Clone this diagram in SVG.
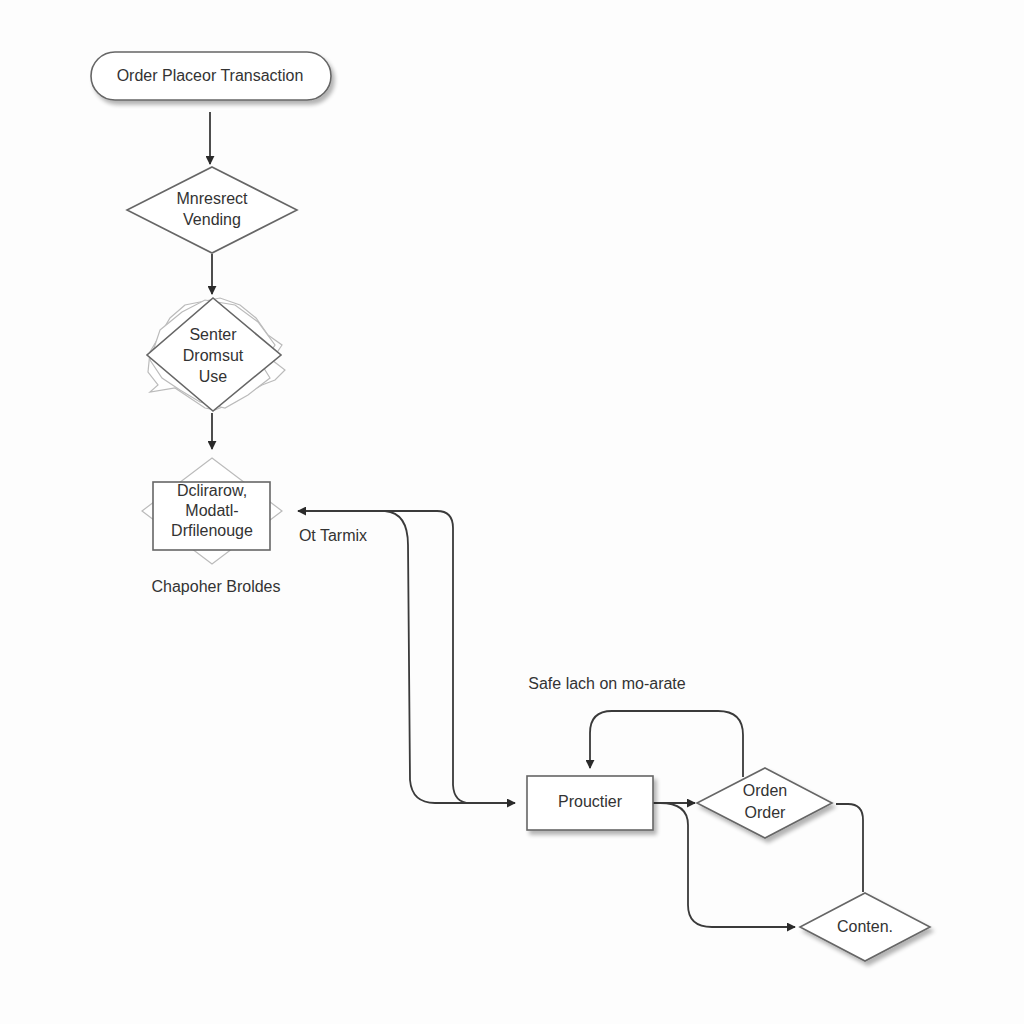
<svg xmlns="http://www.w3.org/2000/svg" width="1024" height="1024" viewBox="0 0 1024 1024">
<defs>
<marker id="ah" viewBox="0 0 10 10" refX="9" refY="5" markerWidth="9" markerHeight="9" markerUnits="userSpaceOnUse" orient="auto">
<path d="M0,0 L10,5 L0,10 z" fill="#2a2a2a"/>
</marker>
<marker id="ahs" viewBox="0 0 10 10" refX="9" refY="5" markerWidth="9" markerHeight="9" markerUnits="userSpaceOnUse" orient="auto-start-reverse">
<path d="M0,0 L10,5 L0,10 z" fill="#2a2a2a"/>
</marker>
<filter id="sh" x="-20%" y="-20%" width="150%" height="150%">
<feGaussianBlur in="SourceAlpha" stdDeviation="2"/>
<feOffset dx="3" dy="4" result="b"/>
<feComponentTransfer><feFuncA type="linear" slope="0.3"/></feComponentTransfer>
<feMerge><feMergeNode/><feMergeNode in="SourceGraphic"/></feMerge>
</filter>
</defs>
<style>
text{font-family:"Liberation Sans",Arial,sans-serif;font-size:16px;fill:#333;text-anchor:middle;dominant-baseline:middle}
.n{fill:#fff;stroke:#666;stroke-width:1.6}
.f{fill:#fff;stroke:#bbb;stroke-width:1.2}
.c{fill:none;stroke:#3a3a3a;stroke-width:1.8}
</style>
<rect width="1024" height="1024" fill="#fdfdfd"/>
<g id="connectors">
<path class="c" d="M210 112 V164" marker-end="url(#ah)"/>
<path class="c" d="M212 254 V294" marker-end="url(#ah)"/>
<path class="c" d="M212 413 V449" marker-end="url(#ah)"/>
<path class="c" d="M515 803 H470 Q454 803 453 785 V528 Q453 511 437 511 H298" marker-start="url(#ahs)" marker-end="url(#ah)"/>
<path class="c" d="M385 511 Q408 513 408 545 L410 780 Q412 803 435 803 H470"/>
<path class="c" d="M653 803 H695" marker-end="url(#ah)"/>
<path class="c" d="M743 777 V735 Q743 711 718 711 H612 Q590 711 590 733 V768" marker-end="url(#ah)"/>
<path class="c" d="M660 803 Q688 803 688 825 V905 Q688 927 712 927 H795" marker-end="url(#ah)"/>
<path class="c" d="M836 804 H848 Q863 804 863 820 V892"/>
</g>
<g id="node1">
<rect class="n" x="91" y="52" width="240" height="48" rx="24" filter="url(#sh)"/>
<text x="210" y="77">Order Placeor Transaction</text>
</g>
<g id="node2">
<polygon class="n" points="212,167 297,210 212,253 127,210"/>
<text x="212" y="200">Mnresrect</text>
<text x="212" y="221">Vending</text>
</g>
<g id="node3">
<polygon class="f" points="185,305 170,318 160,335 150,352 148,372 158,385 150,392 175,388 190,398 205,408 215,410 235,402 250,392 262,385 275,380 285,370 272,360 282,345 268,335 256,318 240,305 220,298 200,302"/>
<polygon class="f" points="160,330 182,312 205,300 235,305 258,322 275,345 262,365 270,378 248,395 225,408 200,402 180,390 162,378 150,360"/>
<polygon class="n" points="213,298 281,355 213,411 147,355"/>
<text x="213" y="336">Senter</text>
<text x="213" y="357">Dromsut</text>
<text x="213" y="378">Use</text>
</g>
<g id="node4">
<polygon class="f" points="212,458 282,511 212,564 142,511"/>
<rect class="n" x="153" y="482" width="117" height="68" stroke="#999"/>
<text x="212" y="492">Dclirarow,</text>
<text x="212" y="512">Modatl-</text>
<text x="212" y="532">Drfilenouge</text>
</g>
<g id="labels">
<text x="216" y="588">Chapoher Broldes</text>
<text x="333" y="537">Ot Tarmix</text>
<text x="607" y="685">Safe lach on mo-arate</text>
</g>
<g id="node5">
<rect class="n" x="527" y="776" width="126" height="54" filter="url(#sh)"/>
<text x="590" y="803">Prouctier</text>
</g>
<g id="node6">
<polygon class="n" points="765,768 832,803 765,838 697,803" filter="url(#sh)"/>
<text x="765" y="792">Orden</text>
<text x="765" y="814">Order</text>
</g>
<g id="node7">
<polygon class="n" points="865,893 930,927 865,961 800,927" filter="url(#sh)"/>
<text x="865" y="928">Conten.</text>
</g>
</svg>
